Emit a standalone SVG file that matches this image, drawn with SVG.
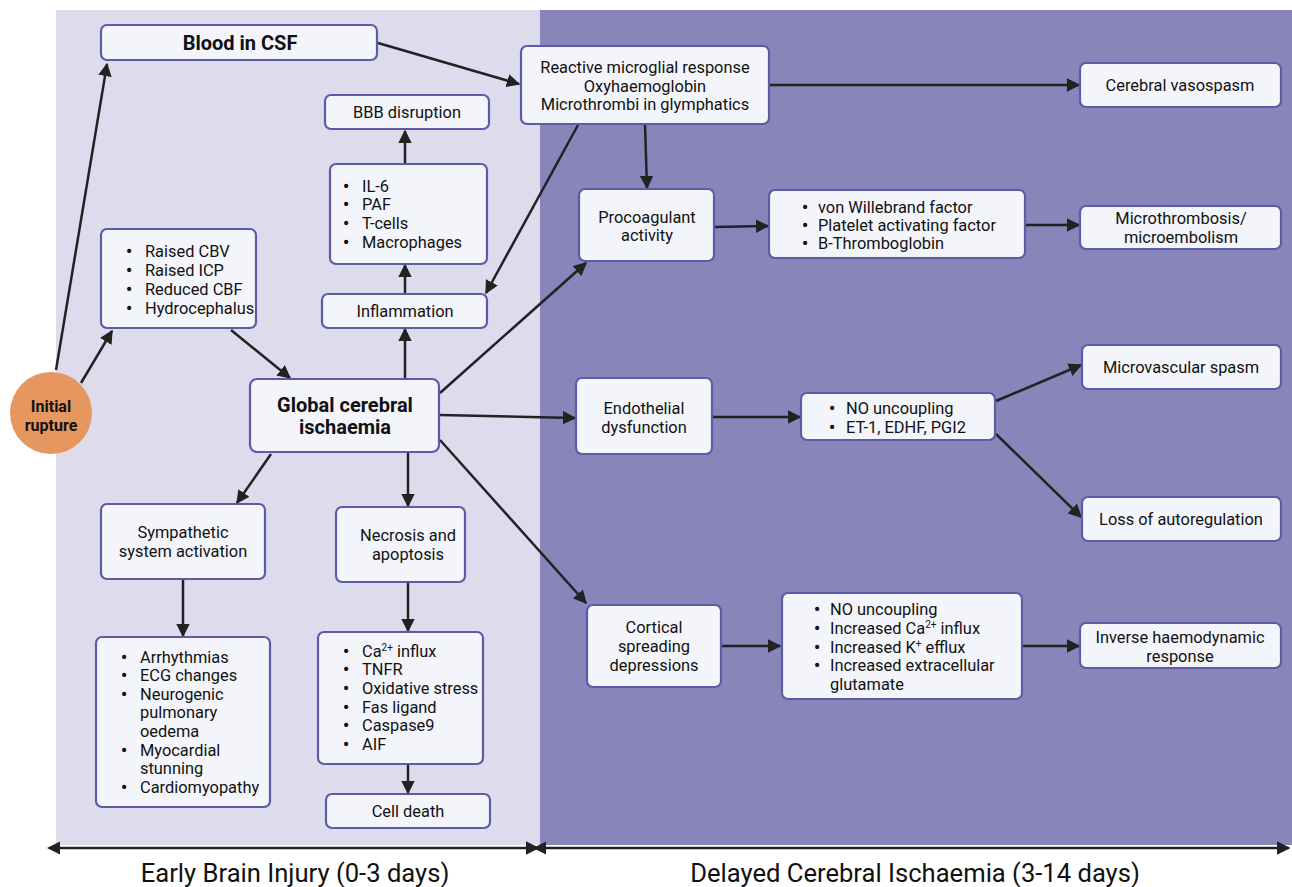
<svg xmlns="http://www.w3.org/2000/svg" width="1292" height="887" viewBox="0 0 1292 887">
<defs>
<style>
.bx{fill:#f3f5fb;stroke:#5b5ca6;stroke-width:2.2}
.t{font-family:Roboto,"Liberation Sans",sans-serif;font-size:16.4px;fill:#111}
.c{text-anchor:middle}
.b{font-weight:700}
.bu{font-weight:900}
.sp{font-size:10px}
.ln{stroke:#222;stroke-width:2.5;fill:none}
.lab{font-family:Roboto,"Liberation Sans",sans-serif;font-size:25.6px;fill:#111;text-anchor:middle}
</style>
<marker id="ah" viewBox="0 0 10 10" refX="9" refY="5" markerWidth="5.4" markerHeight="5.4" markerUnits="strokeWidth" orient="auto">
<path d="M0,0L10,5L0,10z" fill="#222"/>
</marker>
<marker id="as" viewBox="0 0 10 10" refX="1" refY="5" markerWidth="5.4" markerHeight="5.4" markerUnits="strokeWidth" orient="auto-start-reverse">
<path d="M0,0L10,5L0,10z" fill="#222"/>
</marker>
</defs>
<rect width="1292" height="887" fill="#fff"/>
<rect x="56" y="10" width="484" height="835" fill="#dedbed"/>
<rect x="540" y="10" width="752" height="835" fill="#8985ba"/>

<g id="connectors">
<line class="ln" x1="56" y1="370" x2="107" y2="64" marker-end="url(#ah)"/>
<line class="ln" x1="81" y1="383" x2="112" y2="331" marker-end="url(#ah)"/>
<line class="ln" x1="231" y1="330" x2="290" y2="378" marker-end="url(#ah)"/>
<line class="ln" x1="271" y1="454" x2="237" y2="503" marker-end="url(#ah)"/>
<line class="ln" x1="408" y1="453" x2="408" y2="506" marker-end="url(#ah)"/>
<line class="ln" x1="405" y1="378" x2="405" y2="329" marker-end="url(#ah)"/>
<line class="ln" x1="405" y1="293" x2="405" y2="265" marker-end="url(#ah)"/>
<line class="ln" x1="405" y1="164" x2="405" y2="131" marker-end="url(#ah)"/>
<line class="ln" x1="378" y1="43" x2="519" y2="84" marker-end="url(#ah)"/>
<line class="ln" x1="578" y1="125" x2="486" y2="293" marker-end="url(#ah)"/>
<line class="ln" x1="645" y1="125" x2="647" y2="188" marker-end="url(#ah)"/>
<line class="ln" x1="769" y1="85" x2="1079" y2="85" marker-end="url(#ah)"/>
<line class="ln" x1="440" y1="393" x2="586" y2="263" marker-end="url(#ah)"/>
<line class="ln" x1="440" y1="415" x2="575" y2="418" marker-end="url(#ah)"/>
<line class="ln" x1="440" y1="440" x2="586" y2="603" marker-end="url(#ah)"/>
<line class="ln" x1="183" y1="579" x2="183" y2="636" marker-end="url(#ah)"/>
<line class="ln" x1="408" y1="583" x2="408" y2="631" marker-end="url(#ah)"/>
<line class="ln" x1="408" y1="764" x2="408" y2="793" marker-end="url(#ah)"/>
<line class="ln" x1="714" y1="227" x2="768" y2="226" marker-end="url(#ah)"/>
<line class="ln" x1="1025" y1="225" x2="1079" y2="225" marker-end="url(#ah)"/>
<line class="ln" x1="712" y1="417" x2="800" y2="417" marker-end="url(#ah)"/>
<line class="ln" x1="996" y1="401" x2="1081" y2="365" marker-end="url(#ah)"/>
<line class="ln" x1="996" y1="434" x2="1081" y2="517" marker-end="url(#ah)"/>
<line class="ln" x1="721" y1="646" x2="780" y2="646" marker-end="url(#ah)"/>
<line class="ln" x1="1022" y1="646" x2="1079" y2="646" marker-end="url(#ah)"/>
<line class="ln" x1="59" y1="848" x2="538" y2="848" marker-start="url(#as)" marker-end="url(#ah)"/>
<line class="ln" x1="545" y1="848" x2="1289" y2="848" marker-start="url(#as)" marker-end="url(#ah)"/>
</g>

<g id="rupture">
<circle cx="51" cy="413" r="41" fill="#e5975f"/>
<text class="t c b" x="51" y="412" style="font-size:16px">Initial</text>
<text class="t c b" x="51" y="431" style="font-size:16px">rupture</text>
</g>
<g id="blood">
<rect class="bx" x="101" y="25" width="276" height="35" rx="6"/>
<text class="t c b" x="240" y="50" style="font-size:20px">Blood in CSF</text>
</g>
<g id="bbb">
<rect class="bx" x="325" y="95" width="164" height="34" rx="6"/>
<text class="t c" x="407" y="118">BBB disruption</text>
</g>
<g id="cytokines">
<rect class="bx" x="330" y="164" width="157" height="100" rx="6"/>
<text class="t"><tspan class="bu" x="343" y="192">•</tspan><tspan x="362" y="192">IL-6</tspan><tspan class="bu" x="343" y="210">•</tspan><tspan x="362" y="210">PAF</tspan><tspan class="bu" x="343" y="229">•</tspan><tspan x="362" y="229">T-cells</tspan><tspan class="bu" x="343" y="248">•</tspan><tspan x="362" y="248">Macrophages</tspan></text>
</g>
<g id="raised">
<rect class="bx" x="101" y="229" width="155" height="99" rx="6"/>
<text class="t"><tspan class="bu" x="126" y="257">•</tspan><tspan x="145" y="257">Raised CBV</tspan><tspan class="bu" x="126" y="276">•</tspan><tspan x="145" y="276">Raised ICP</tspan><tspan class="bu" x="126" y="295">•</tspan><tspan x="145" y="295">Reduced CBF</tspan><tspan class="bu" x="126" y="314">•</tspan><tspan x="145" y="314">Hydrocephalus</tspan></text>
</g>
<g id="inflammation">
<rect class="bx" x="322" y="294" width="165" height="34" rx="6"/>
<text class="t c" x="405" y="317">Inflammation</text>
</g>
<g id="global">
<rect class="bx" x="250" y="379" width="189" height="73" rx="7"/>
<text class="t c b" x="345" y="412" style="font-size:20px">Global cerebral</text>
<text class="t c b" x="345" y="434" style="font-size:20px">ischaemia</text>
</g>
<g id="sympathetic">
<rect class="bx" x="101" y="504" width="164" height="75" rx="6"/>
<text class="t c" x="183" y="538">Sympathetic</text>
<text class="t c" x="183" y="557">system activation</text>
</g>
<g id="necrosis">
<rect class="bx" x="336" y="507" width="129" height="75" rx="6"/>
<text class="t c" x="408" y="541">Necrosis and</text>
<text class="t c" x="408" y="560">apoptosis</text>
</g>
<g id="cardiac">
<rect class="bx" x="96" y="637" width="174" height="170" rx="6"/>
<text class="t"><tspan class="bu" x="121" y="663">•</tspan><tspan x="140" y="663">Arrhythmias</tspan><tspan class="bu" x="121" y="681">•</tspan><tspan x="140" y="681">ECG changes</tspan><tspan class="bu" x="121" y="700">•</tspan><tspan x="140" y="700">Neurogenic</tspan><tspan x="140" y="718">pulmonary</tspan><tspan x="140" y="737">oedema</tspan><tspan class="bu" x="121" y="756">•</tspan><tspan x="140" y="756">Myocardial</tspan><tspan x="140" y="774">stunning</tspan><tspan class="bu" x="121" y="793">•</tspan><tspan x="140" y="793">Cardiomyopathy</tspan></text>
</g>
<g id="mediators">
<rect class="bx" x="318" y="632" width="165" height="132" rx="6"/>
<text class="t"><tspan class="bu" x="343" y="657">•</tspan><tspan x="362" y="657">Ca</tspan><tspan class="sp" dy="-6">2+</tspan><tspan dy="6"> influx</tspan><tspan class="bu" x="343" y="675">•</tspan><tspan x="362" y="675">TNFR</tspan><tspan class="bu" x="343" y="694">•</tspan><tspan x="362" y="694">Oxidative stress</tspan><tspan class="bu" x="343" y="713">•</tspan><tspan x="362" y="713">Fas ligand</tspan><tspan class="bu" x="343" y="731">•</tspan><tspan x="362" y="731">Caspase9</tspan><tspan class="bu" x="343" y="750">•</tspan><tspan x="362" y="750">AIF</tspan></text>
</g>
<g id="celldeath">
<rect class="bx" x="326" y="794" width="164" height="34" rx="6"/>
<text class="t c" x="408" y="817">Cell death</text>
</g>
<g id="microglial">
<rect class="bx" x="521" y="46" width="248" height="78" rx="6"/>
<text class="t c" x="645" y="73">Reactive microglial response</text>
<text class="t c" x="645" y="92">Oxyhaemoglobin</text>
<text class="t c" x="645" y="110">Microthrombi in glymphatics</text>
</g>
<g id="vasospasm">
<rect class="bx" x="1080" y="63" width="201" height="44" rx="6"/>
<text class="t c" x="1180" y="91">Cerebral vasospasm</text>
</g>
<g id="procoagulant">
<rect class="bx" x="579" y="189" width="135" height="72" rx="6"/>
<text class="t c" x="647" y="223">Procoagulant</text>
<text class="t c" x="647" y="241">activity</text>
</g>
<g id="vwf">
<rect class="bx" x="769" y="190" width="256" height="68" rx="6"/>
<text class="t"><tspan class="bu" x="802" y="213">•</tspan><tspan x="818" y="213">von Willebrand factor</tspan><tspan class="bu" x="802" y="231">•</tspan><tspan x="818" y="231">Platelet activating factor</tspan><tspan class="bu" x="802" y="249">•</tspan><tspan x="818" y="249">B-Thromboglobin</tspan></text>
</g>
<g id="microthrombosis">
<rect class="bx" x="1080" y="206" width="201" height="43" rx="6"/>
<text class="t c" x="1181" y="224">Microthrombosis/</text>
<text class="t c" x="1181" y="243">microembolism</text>
</g>
<g id="microvascular">
<rect class="bx" x="1082" y="345" width="199" height="44" rx="6"/>
<text class="t c" x="1181" y="373">Microvascular spasm</text>
</g>
<g id="endothelial">
<rect class="bx" x="576" y="378" width="136" height="76" rx="6"/>
<text class="t c" x="644" y="414">Endothelial</text>
<text class="t c" x="644" y="433">dysfunction</text>
</g>
<g id="nouncoupling">
<rect class="bx" x="801" y="393" width="194" height="47" rx="6"/>
<text class="t"><tspan class="bu" x="829" y="414">•</tspan><tspan x="846" y="414">NO uncoupling</tspan><tspan class="bu" x="829" y="433">•</tspan><tspan x="846" y="433">ET-1, EDHF, PGI2</tspan></text>
</g>
<g id="autoregulation">
<rect class="bx" x="1082" y="497" width="199" height="44" rx="6"/>
<text class="t c" x="1181" y="525">Loss of autoregulation</text>
</g>
<g id="cortical">
<rect class="bx" x="587" y="605" width="134" height="82" rx="6"/>
<text class="t c" x="654" y="633">Cortical</text>
<text class="t c" x="654" y="652">spreading</text>
<text class="t c" x="654" y="671">depressions</text>
</g>
<g id="ionic">
<rect class="bx" x="782" y="593" width="240" height="106" rx="6"/>
<text class="t"><tspan class="bu" x="814" y="615">•</tspan><tspan x="830" y="615">NO uncoupling</tspan><tspan class="bu" x="814" y="634">•</tspan><tspan x="830" y="634">Increased Ca</tspan><tspan class="sp" dy="-6">2+</tspan><tspan dy="6"> influx</tspan><tspan class="bu" x="814" y="653">•</tspan><tspan x="830" y="653">Increased K</tspan><tspan class="sp" dy="-6">+</tspan><tspan dy="6"> efflux</tspan><tspan class="bu" x="814" y="671">•</tspan><tspan x="830" y="671">Increased extracellular</tspan><tspan x="830" y="690">glutamate</tspan></text>
</g>
<g id="inverse">
<rect class="bx" x="1080" y="623" width="201" height="45" rx="6"/>
<text class="t c" x="1180" y="643">Inverse haemodynamic</text>
<text class="t c" x="1180" y="662">response</text>
</g>
<g id="labels">
<text class="lab" x="295" y="882">Early Brain Injury (0-3 days)</text>
<text class="lab" x="915" y="882">Delayed Cerebral Ischaemia (3-14 days)</text>
</g>
</svg>
